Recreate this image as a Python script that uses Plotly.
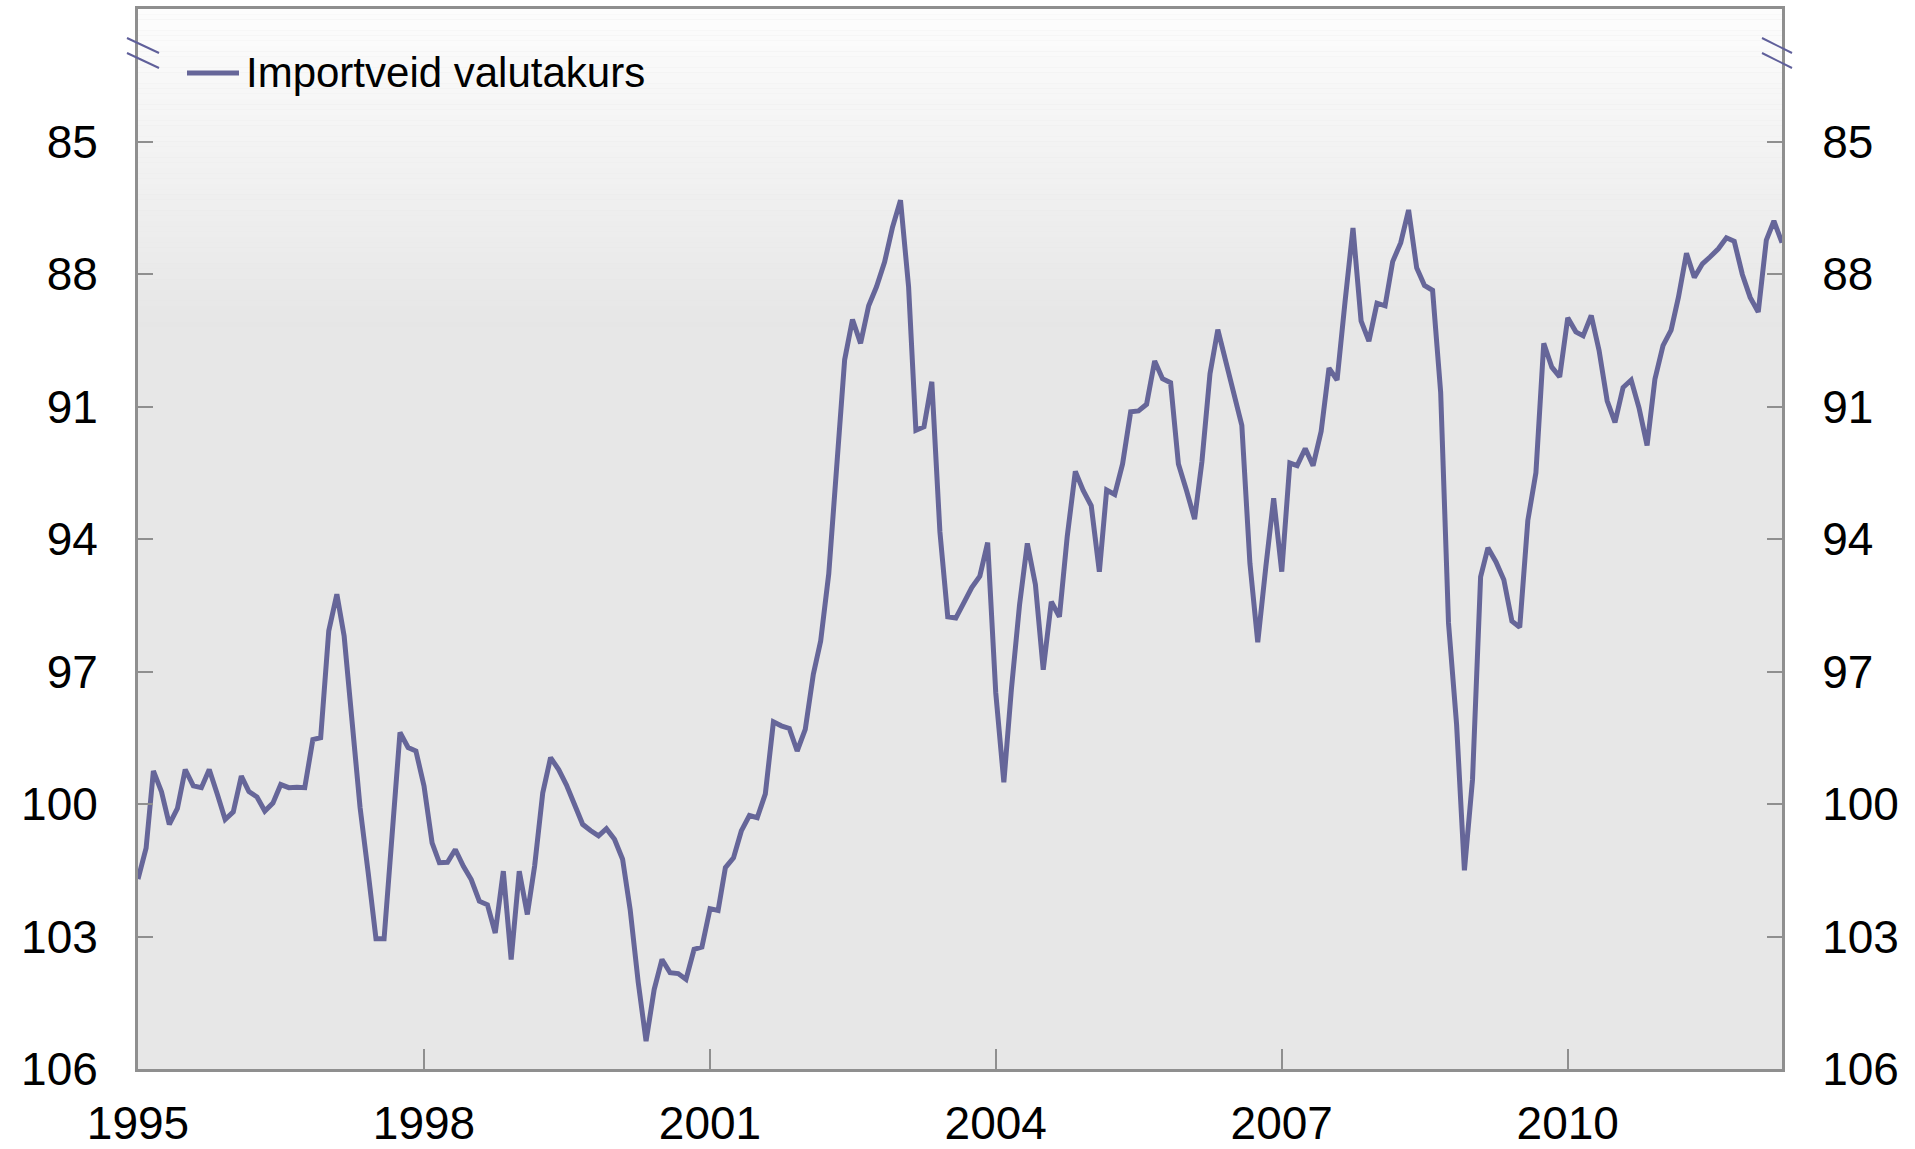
import pandas as pd
import plotly.graph_objects as go

# ---- data ----
start_month = "1995-01-01"
values = [
    101.7, 101.0, 99.25, 99.72, 100.46, 100.1, 99.22, 99.59, 99.63, 99.22, 99.78, 100.35,
    100.18, 99.37, 99.72, 99.84, 100.16, 99.98, 99.56, 99.63, 99.62, 99.63, 98.54, 98.5,
    96.08, 95.25, 96.2, 98.3, 100.08, 101.55, 103.05, 103.05, 100.57, 98.38, 98.72, 98.8,
    99.59, 100.88, 101.33, 101.32, 101.03, 101.41, 101.71, 102.2, 102.28, 102.92, 101.52, 103.52,
    101.52, 102.5, 101.4, 99.75, 98.95, 99.22, 99.57, 99.99, 100.46, 100.6, 100.72, 100.56,
    100.8, 101.25, 102.39, 104.04, 105.37, 104.2, 103.52, 103.82, 103.84, 103.97, 103.29, 103.24,
    102.37, 102.41, 101.44, 101.22, 100.61, 100.26, 100.31, 99.77, 98.14, 98.23, 98.29, 98.8,
    98.31, 97.06, 96.31, 94.79, 92.54, 89.94, 89.03, 89.57, 88.72, 88.29, 87.73, 86.95,
    86.33, 88.29, 91.54, 91.46, 90.44, 93.84, 95.76, 95.79, 95.44, 95.1, 94.84, 94.08,
    97.48, 99.51, 97.4, 95.5, 94.1, 95.03, 96.96, 95.42, 95.76, 93.94, 92.47, 92.9,
    93.25, 94.74, 92.89, 92.99, 92.3, 91.12, 91.1, 90.95, 89.97, 90.37, 90.46, 92.3,
    92.9, 93.55, 92.25, 90.26, 89.26, 90.0, 90.8, 91.43, 94.55, 96.34, 94.63, 93.08,
    94.74, 92.28, 92.34, 91.95, 92.34, 91.56, 90.13, 90.4, 88.6, 86.96, 89.06, 89.52,
    88.66, 88.72, 87.72, 87.29, 86.55, 87.86, 88.26, 88.37, 90.68, 95.9, 98.2, 101.5,
    99.45, 94.86, 94.2, 94.52, 94.92, 95.86, 96.0, 93.58, 92.5, 89.57, 90.11, 90.33,
    88.99, 89.31, 89.4, 88.94, 89.73, 90.87, 91.36, 90.57, 90.4, 91.03, 91.88, 90.38,
    89.62, 89.27, 88.53, 87.53, 88.08, 87.77, 87.61, 87.43, 87.18, 87.26, 88.01, 88.53,
    88.86, 87.23, 86.8, 87.29,
]
dates = pd.date_range(start_month, periods=len(values), freq="MS")
series_name = "Importveid valutakurs"
x_tick_years = ["1995", "1998", "2001", "2004", "2007", "2010"]
y_ticks = [85, 88, 91, 94, 97, 100, 103, 106]
y_range = [106, 82]

# ---- style ----
W, H = 1915, 1149
ML, MR, MT, MB = 138, 133, 9, 80
line_color = "#666699"
axis_color = "#8f8f8f"
font_family = "Liberation Sans, Arial, sans-serif"
tick_font = dict(family=font_family, size=46, color="black")

pw = W - ML - MR
ph = H - MT - MB

def dx(px):  # pixel offset from left axis -> x domain
    return px / pw

def dy(py):  # pixel from top of figure -> y domain
    return 1 - (py - MT) / ph

fig = go.Figure()
fig.add_trace(go.Scatter(
    x=dates, y=values, mode="lines", name=series_name,
    line=dict(color=line_color, width=5), showlegend=False,
))
# helper trace for the right-hand axis
fig.add_trace(go.Scatter(
    x=dates, y=values, mode="lines", yaxis="y2", opacity=0,
    showlegend=False, hoverinfo="skip", line=dict(width=0),
))

shapes = []
# gradient background at the top of the plot area
n = 60
g_end = 0.70
c0, c1 = 253, 230
for i in range(n):
    t0 = i / n
    t1 = (i + 1) / n
    c = round(c0 + (c1 - c0) * (t0 + t1) / 2)
    shapes.append(dict(
        type="rect", xref="x domain", yref="y domain",
        x0=0, x1=1, y0=1 - (1 - g_end) * t1, y1=1 - (1 - g_end) * t0,
        fillcolor=f"rgb({c},{c},{c})", line=dict(width=0), layer="below",
    ))

# axis break marks
for base, (a, b) in [(0, (-11, 21)), (1, (-20, 10))]:
    for y0p, y1p in [(38, 53), (53, 68)]:
        shapes.append(dict(
            type="line", xref="x domain", yref="y domain",
            x0=base + dx(a), x1=base + dx(b), y0=dy(y0p), y1=dy(y1p),
            line=dict(color="#5f5f9a", width=2), layer="above",
        ))

# legend sample line
shapes.append(dict(
    type="line", xref="x domain", yref="y domain",
    x0=dx(187 - ML), x1=dx(239 - ML), y0=dy(73), y1=dy(73),
    line=dict(color=line_color, width=5),
))

yaxis_common = dict(
    range=y_range,
    tickmode="array", tickvals=y_ticks,
    ticktext=[str(v) for v in y_ticks],
    ticks="inside", ticklen=15, tickwidth=2, tickcolor=axis_color,
    showline=True, linecolor=axis_color, linewidth=3,
    showgrid=False, zeroline=False, automargin=False,
    tickfont=tick_font, ticklabelstandoff=28,
)

fig.update_layout(
    width=W, height=H,
    margin=dict(l=ML, r=MR, t=MT, b=MB, pad=0, autoexpand=False),
    paper_bgcolor="white",
    plot_bgcolor="rgb(231,231,231)",
    shapes=shapes,
    annotations=[dict(
        text=series_name, xref="x domain", yref="y domain",
        x=dx(244 - ML), y=dy(73), xanchor="left", yanchor="middle",
        showarrow=False, font=dict(family=font_family, size=42, color="black"),
    )],
    xaxis=dict(
        type="date",
        range=[dates[0], dates[-1]],
        tickmode="array",
        tickvals=[pd.Timestamp(f"{y}-01-01") for y in x_tick_years],
        ticktext=x_tick_years,
        ticks="inside", ticklen=20, tickwidth=2, tickcolor=axis_color,
        showline=True, linecolor=axis_color, linewidth=3, mirror=True,
        showgrid=False, zeroline=False, automargin=False,
        tickfont=tick_font, ticklabelstandoff=12,
    ),
    yaxis=yaxis_common,
    yaxis2=dict(yaxis_common, overlaying="y", side="right"),
    showlegend=False,
)

fig.write_html(
    "out.html",
    config={"displayModeBar": False},
    post_script="document.body.style.margin='0';document.body.style.overflow='hidden';",
)
